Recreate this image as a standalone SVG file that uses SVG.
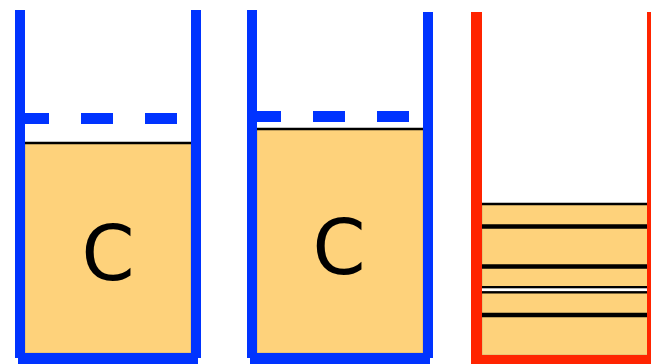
<svg xmlns="http://www.w3.org/2000/svg" width="651" height="364" viewBox="0 0 651 364">
<style>
.fill{fill:#FED27B;stroke:#B8A070;stroke-width:0.6}
.blue{fill:#0033FF}
.red{fill:#FF2400}
.surf{stroke:#000;stroke-width:2.5}
.band{stroke:#000;stroke-width:4.5}
.dash{stroke:#0033FF;stroke-width:11;stroke-dasharray:32 32}
.lbl{font-family:"DejaVu Sans",sans-serif;font-size:76px;fill:#000;text-anchor:middle}
</style>
<rect width="651" height="364" fill="#fff"/>
<g id="container1">
  <rect class="fill" x="25" y="143" width="166" height="210"/>
  <line class="surf" x1="25" y1="143" x2="191" y2="143"/>
  <line class="dash" x1="17" y1="118.5" x2="177" y2="118.5"/>
  <rect class="blue" x="15" y="10" width="10" height="348"/>
  <rect class="blue" x="191" y="10" width="10" height="348"/>
  <rect class="blue" x="18" y="353" width="180" height="11"/>
  <text class="lbl" x="108" y="280">C</text>
</g>
<g id="container2">
  <rect class="fill" x="257" y="129" width="166" height="224"/>
  <line class="surf" x1="257" y1="129" x2="423" y2="129"/>
  <line class="dash" x1="249" y1="116.5" x2="409" y2="116.5"/>
  <rect class="blue" x="247" y="10" width="10" height="348"/>
  <rect class="blue" x="423" y="12" width="10" height="346"/>
  <rect class="blue" x="250" y="353" width="180" height="11"/>
  <text class="lbl" x="339" y="274">C</text>
</g>
<g id="container3">
  <rect class="fill" x="482" y="204" width="170" height="151"/>
  <line class="surf" x1="482" y1="204" x2="651" y2="204"/>
  <line class="band" x1="482" y1="226.5" x2="651" y2="226.5"/>
  <line class="band" x1="482" y1="266.5" x2="651" y2="266.5"/>
  <rect x="482" y="286" width="169" height="7.5" fill="#000"/>
  <rect x="482" y="288.3" width="169" height="2.8" fill="#fff"/>
  <line class="band" x1="482" y1="315" x2="651" y2="315"/>
  <rect class="red" x="471" y="12" width="11" height="352"/>
  <rect class="red" x="647" y="12" width="6" height="352"/>
  <rect class="red" x="476" y="355" width="180" height="9"/>
</g>
</svg>
